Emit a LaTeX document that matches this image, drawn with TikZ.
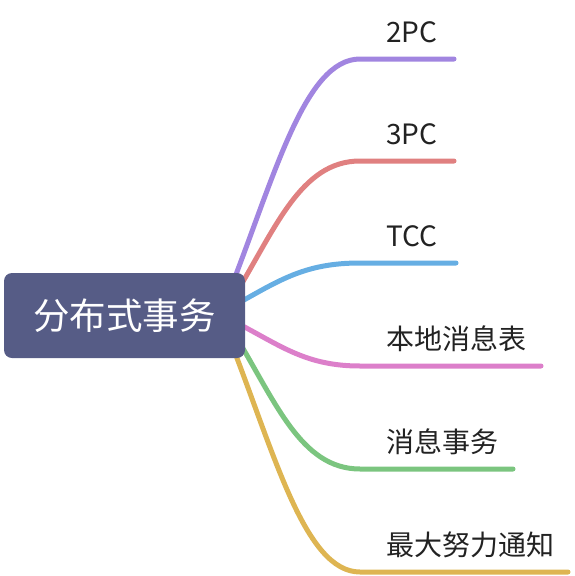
\documentclass[tikz,border=0pt]{standalone}
\usepackage{fontspec}
\setmainfont{Noto Sans CJK SC}
\usetikzlibrary{backgrounds}
\definecolor{rootfill}{HTML}{565C86}
\definecolor{cpurple}{HTML}{A185E0}
\definecolor{cred}{HTML}{E08080}
\definecolor{cblue}{HTML}{66AEE3}
\definecolor{cpink}{HTML}{DC7FCA}
\definecolor{cgreen}{HTML}{7BC57F}
\definecolor{cgold}{HTML}{DEB552}
\definecolor{labtext}{HTML}{222222}
\tikzset{
  rootbox/.style={fill=rootfill, rounded corners=8pt, minimum width=241pt, minimum height=85pt,
    inner sep=0pt, text=white, font=\fontsize{36.5pt}{40pt}\selectfont},
  lab/.style={anchor=west, inner sep=0pt, text=labtext, font=\fontsize{28pt}{31pt}\selectfont},
  branch/.style={line width=5pt, line cap=round}
}
\begin{document}
\begin{tikzpicture}[x=1pt, y=-1pt]
\useasboundingbox (0,0) rectangle (574,576);
\node[rootbox] (root) at (124.5,315.5) {分布式事务};
% labels
\node[lab] (l1) at (386,32) {2PC};
\node[lab] (l2) at (386,134) {3PC};
\node[lab] (l3) at (386,236) {TCC};
\node[lab] (l4) at (386,339) {本地消息表};
\node[lab] (l5) at (386,442) {消息事务};
\node[lab] (l6) at (386,545) {最大努力通知};
% coordinates
\coordinate (s1) at (230,290); \coordinate (c1) at (360,59);  \coordinate (e1) at (454,59);
\coordinate (s2) at (232,300); \coordinate (c2) at (360,161); \coordinate (e2) at (454,161);
\coordinate (s3) at (235,305); \coordinate (c3) at (360,263); \coordinate (e3) at (456,263);
\coordinate (s4) at (235,322); \coordinate (c4) at (360,366); \coordinate (e4) at (541,366);
\coordinate (s5) at (232,330); \coordinate (c5) at (360,469); \coordinate (e5) at (513,469);
\coordinate (s6) at (230,340); \coordinate (c6) at (360,572); \coordinate (e6) at (568,572);
\begin{scope}[on background layer]
\draw[branch, cpurple] (s1) .. controls (275,175) and (305,59) .. (c1) -- (e1);
\draw[branch, cred] (s2) .. controls (275,230) and (300,161) .. (c2) -- (e2);
\draw[branch, cblue] (s3) .. controls (280,280) and (305,263) .. (c3) -- (e3);
\draw[branch, cpink] (s4) .. controls (280,345) and (305,366) .. (c4) -- (e4);
\draw[branch, cgreen] (s5) .. controls (275,400) and (300,469) .. (c5) -- (e5);
\draw[branch, cgold] (s6) .. controls (275,455) and (305,572) .. (c6) -- (e6);
\end{scope}
\end{tikzpicture}
\end{document}
